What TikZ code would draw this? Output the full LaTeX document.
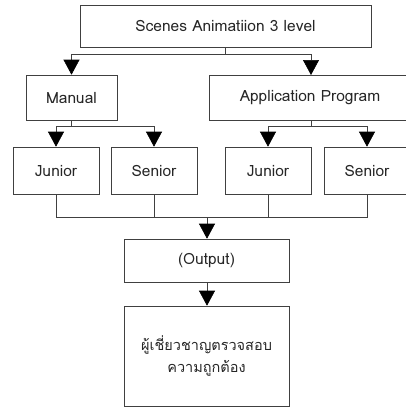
\documentclass[tikz,border=0pt]{standalone}
\usepackage{fontspec}
\setmainfont[Script=Thai]{Loma}
\usetikzlibrary{arrows.meta}
\tikzset{
  box/.style={draw=black!75, line width=0.6pt, rectangle, inner sep=0pt, align=center, font=\fontsize{15.5}{22}\selectfont, text=black!85},
  thaibox/.style={box, font=\fontsize{14.5}{22}\selectfont},
  conn/.style={draw=black!75, line width=0.6pt},
  arr/.style={conn, -{Triangle[width=16pt,length=15pt,color=black,fill=black]}}
}
\begin{document}
\begin{tikzpicture}[x=1pt,y=-1pt]
\useasboundingbox (0,0) rectangle (406,407);
\clip (0,0) rectangle (406,407);
\node[box, minimum width=291pt, minimum height=42pt] (top) at (225.5,26) {Scenes Animatiion 3 level};
\node[box, minimum width=91pt, minimum height=45pt] (man) at (71.5,97.5) {Manual};
\node[box, minimum width=202pt, minimum height=45pt] (app) at (310,97.5) {Application Program};
\node[box, minimum width=86pt, minimum height=47pt] (j1) at (56,170.5) {Junior};
\node[box, minimum width=86pt, minimum height=47pt] (s1) at (154,170.5) {Senior};
\node[box, minimum width=86pt, minimum height=47pt] (j2) at (268,170.5) {Junior};
\node[box, minimum width=86pt, minimum height=47pt] (s2) at (367,170.5) {Senior};
\node[box, minimum width=165pt, minimum height=43pt] (out) at (206.5,260.5) {(Output)};
\node[thaibox, minimum width=165pt, minimum height=100pt] (fin) at (206.5,356) {ผู้เชี่ยวชาญตรวจสอบ\\ความถูกต้อง};
% top split
\draw[conn] (top.south) -- ++(0,7) coordinate (t1);
\draw[arr] (t1) -| (man.north);
\draw[arr] (t1) -| (311,75) coordinate (appin);
% manual split
\draw[conn] (man.south) -- ++(0,6) coordinate (m1);
\draw[arr] (m1) -| (j1.north);
\draw[arr] (m1) -| (s1.north);
% app split
\draw[conn] (appin |- app.south) -- ++(0,6) coordinate (a1);
\draw[arr] (a1) -| (j2.north);
\draw[arr] (a1) -| (s2.north);
% merge
\coordinate (mg) at (207,217);
\draw[conn] (j1.south) |- (mg);
\draw[conn] (s1.south) |- (mg);
\draw[conn] (j2.south) |- (mg);
\draw[conn] (s2.south) |- (mg);
\draw[arr] (mg) -- (mg |- out.north);
\draw[arr] (out.south -| mg) -- (mg |- fin.north);
\end{tikzpicture}
\end{document}
